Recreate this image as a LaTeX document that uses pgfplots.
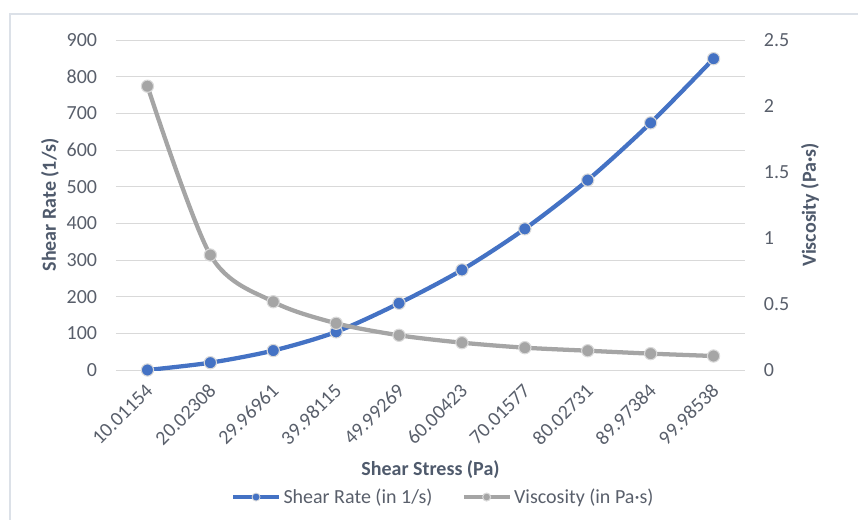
\documentclass[border=0pt]{standalone}
\usepackage{fontspec}
\setmainfont{Carlito}
\usepackage{pgfplots}
\pgfplotsset{compat=1.18}
\definecolor{serA}{HTML}{4472C4}
\definecolor{serB}{HTML}{A5A5A5}
\definecolor{gridc}{HTML}{D9D9D9}
\definecolor{txt}{HTML}{595F6B}
\definecolor{ttl}{HTML}{4F5A6C}
\definecolor{frame}{HTML}{DCE1E8}
\begin{document}
\begin{tikzpicture}
\useasboundingbox (0,0) rectangle (643.5pt,389.25pt);
\draw[frame, line width=0.9pt] (7.5pt,-5pt) -- (7.5pt,378.75pt) -- (650pt,378.75pt);
\pgfplotsset{
 base/.style={
  scale only axis, width=471.75pt, height=247.5pt,
  at={(87pt,111.75pt)}, anchor=south west,
  xmin=-0.5, xmax=9.5,
  axis line style={draw=none},
  major tick length=0pt,
  tick label style={font=\fontsize{15}{18}\selectfont, text=txt},
  /pgf/number format/assume math mode=true,
  label style={font=\fontsize{15}{18}\selectfont\bfseries, text=ttl},
 },
}
\begin{axis}[base,
 ymin=0, ymax=900, ytick={0,100,...,900},
 ymajorgrids, grid style={gridc, line width=0.75pt},
 xtick={0,...,9},
 xticklabels={10.01154,20.02308,29.96961,39.98115,49.99269,60.00423,70.01577,80.02731,89.97384,99.98538},
 xticklabel style={yshift=-13pt, xshift=1.5pt, rotate=45, anchor=east, inner sep=0pt},
 yticklabel style={anchor=east, inner sep=0pt, xshift=-14pt},
 xlabel={Shear Stress (Pa)}, ylabel={Shear Rate (1/s)},
 xlabel style={at={(axis description cs:0.5,-0.303)}, anchor=center},
 ylabel style={at={(axis description cs:-0.105,0.5)}, anchor=center},
]
\addplot[serA, line width=3.2pt, smooth, mark=*, mark size=4.6pt,
  mark options={fill=serA, draw=white!85!black, line width=0.8pt}]
 coordinates {(0,0) (1,20) (2,53) (3,104) (4,182) (5,273) (6,385) (7,518) (8,674) (9,849)};
\end{axis}
\begin{axis}[base,
 ymin=0, ymax=2.5, ytick={0,0.5,1,1.5,2,2.5},
 yticklabel pos=right, xtick=\empty,
 yticklabel style={anchor=west, inner sep=0pt, xshift=14pt},
 ylabel={Viscosity (Pa·s)},
 ylabel style={at={(axis description cs:1.1033,0.5)}, anchor=center},
 legend style={at={(axis description cs:0.521,-0.385)}, anchor=center, draw=none, fill=none,
   legend columns=2, font=\fontsize{15}{18}\selectfont, text=txt,
   /tikz/every even column/.append style={column sep=20pt}},
 legend image code/.code={\draw[mark repeat=2, mark phase=2, mark size=3pt] plot coordinates {(0pt,0pt) (17pt,0pt) (34pt,0pt)};},
]
\addlegendimage{serA, line width=3.2pt, mark=*, mark options={fill=serA, draw=white!85!black, line width=0.6pt}}
\addlegendentry{Shear Rate (in 1/s)}
\addplot[serB, line width=3.2pt, smooth, mark=*, mark size=4.6pt,
  mark options={fill=serB, draw=white!85!black, line width=0.8pt}]
 coordinates {(0,2.15) (1,0.871) (2,0.517) (3,0.354) (4,0.263) (5,0.207) (6,0.169) (7,0.146) (8,0.124) (9,0.106)};
\addlegendentry{Viscosity (in Pa·s)}
\end{axis}
\end{tikzpicture}
\end{document}
